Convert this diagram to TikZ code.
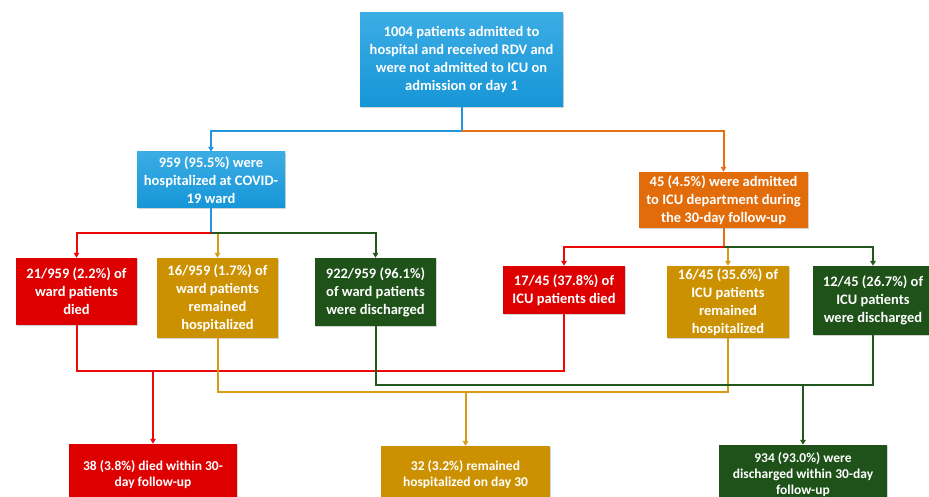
\documentclass[tikz,border=0pt]{standalone}
\usepackage{fontspec}
\setmainfont{Carlito}
\usetikzlibrary{positioning}
\usetikzlibrary{arrows.meta}
\usetikzlibrary{shadows}
\usetikzlibrary{calc}
\definecolor{figAzul}{RGB}{22,150,215}
\definecolor{figAzulClaro}{RGB}{60,172,228}
\definecolor{figNaranja}{RGB}{226,107,10}
\definecolor{figRojo}{RGB}{222,0,0}
\definecolor{figOro}{RGB}{204,145,0}
\definecolor{figVerde}{RGB}{30,82,25}
\definecolor{lineaAzul}{RGB}{35,150,220}
\definecolor{lineaNaranja}{RGB}{232,110,20}
\definecolor{lineaRoja}{RGB}{235,10,10}
\definecolor{lineaOro}{RGB}{215,155,20}
\definecolor{lineaVerde}{RGB}{35,88,28}
\tikzset{
  caja/.style={
    rectangle, draw=none, text=white, align=center, inner sep=2pt,
    font=\bfseries\fontsize{14.5}{18}\selectfont,
    drop shadow={shadow xshift=1.3pt, shadow yshift=-1.3pt, opacity=0.35}
  },
  cajaa/.style={caja, top color=figAzulClaro, bottom color=figAzul},
  cajan/.style={caja, fill=figNaranja},
  cajar/.style={caja, fill=figRojo},
  cajao/.style={caja, fill=figOro},
  cajav/.style={caja, fill=figVerde},
  cajab/.style={font=\bfseries\fontsize{13.5}{16}\selectfont},
  linea/.style={line width=2pt},
  flecha/.style={linea, -{Triangle[length=5pt,width=5.5pt]}}
}
\begin{document}
\begin{tikzpicture}[x=1pt,y=-1pt]
  \useasboundingbox (0,0) rectangle (929,497);
  % inicio
  \node[cajaa, minimum width=203pt, minimum height=94pt] (total) at (461.5,60)
    {1004 patients admitted to\\hospital and received RDV and\\were not admitted to ICU on\\admission or day 1};
  \node[cajaa, minimum width=148pt, minimum height=56pt] (sala) at (211,180)
    {959 (95.5\%) were\\hospitalized at COVID-\\19 ward};
  \node[cajan, minimum width=169pt, minimum height=56pt] (uci) at (723.5,200)
    {45 (4.5\%) were admitted\\to ICU department during\\the 30-day follow-up};
  % ward patients
  \node[cajar, minimum width=121pt, minimum height=67pt] (salaMuerte) at (76.5,291.5)
    {21/959 (2.2\%) of\\ward patients\\died};
  \node[cajao, minimum width=121pt, minimum height=80pt] (salaHosp) at (217.5,298)
    {16/959 (1.7\%) of\\ward patients\\remained\\hospitalized};
  \node[cajav, minimum width=121pt, minimum height=68pt] (salaAlta) at (375.5,292)
    {922/959 (96.1\%)\\of ward patients\\were discharged};
  % ICU patients
  \node[cajar, minimum width=122pt, minimum height=48pt] (uciMuerte) at (564,290)
    {17/45 (37.8\%) of\\ICU patients died};
  \node[cajao, minimum width=122pt, minimum height=72pt] (uciHosp) at (728,302)
    {16/45 (35.6\%) of\\ICU patients\\remained\\hospitalized};
  \node[cajav, minimum width=120pt, minimum height=69pt] (uciAlta) at (873,300.5)
    {12/45 (26.7\%) of\\ICU patients\\were discharged};
  % resultados
  \node[cajar, cajab, minimum width=168pt, minimum height=62pt] (finMuerte) at (153,475)
    {38 (3.8\%) died within 30-\\day follow-up};
  \node[cajao, cajab, minimum width=169pt, minimum height=58pt] (finHosp) at (465.5,475)
    {32 (3.2\%) remained\\hospitalized on day 30};
  \node[cajav, cajab, minimum width=168pt, minimum height=60pt] (finAlta) at (803,475)
    {934 (93.0\%) were\\discharged within 30-day\\follow-up};
  % uniones
  \coordinate (j0) at ($(total.south)+(0,24)$);
  \coordinate (j1) at ($(sala.south)+(0,25)$);
  \coordinate (j2) at ($(uci.south)+(0,19)$);
  \coordinate (jr) at (153,371);
  \coordinate (jo) at (465.5,392);
  \coordinate (jv) at (803,385);
  \draw[linea, lineaAzul] (total.south) -- (j0);
  \draw[flecha, lineaAzul] (j0) -| (sala.north);
  \draw[flecha, lineaNaranja] (j0) -| (uci.north);
  \draw[linea, lineaAzul] (sala.south) -- (j1);
  \draw[flecha, lineaRoja] (j1) -| (salaMuerte.north);
  \draw[flecha, lineaOro] (j1) -| (salaHosp.north);
  \draw[flecha, lineaVerde] (j1) -| (salaAlta.north);
  \draw[linea, lineaNaranja] (uci.south) -- (j2);
  \draw[flecha, lineaRoja] (j2) -| (uciMuerte.north);
  \draw[flecha, lineaOro] (j2) -| (uciHosp.north);
  \draw[flecha, lineaVerde] (j2) -| (uciAlta.north);
  \draw[linea, lineaRoja] (salaMuerte.south) |- (jr) -| (uciMuerte.south);
  \draw[linea, lineaOro] (salaHosp.south) |- (jo) -| (uciHosp.south);
  \draw[linea, lineaVerde] (salaAlta.south) |- (jv) -| (uciAlta.south);
  \draw[flecha, lineaRoja] (jr) -- (finMuerte.north);
  \draw[flecha, lineaOro] (jo) -- (finHosp.north);
  \draw[flecha, lineaVerde] (jv) -- (finAlta.north);
\end{tikzpicture}
\end{document}
